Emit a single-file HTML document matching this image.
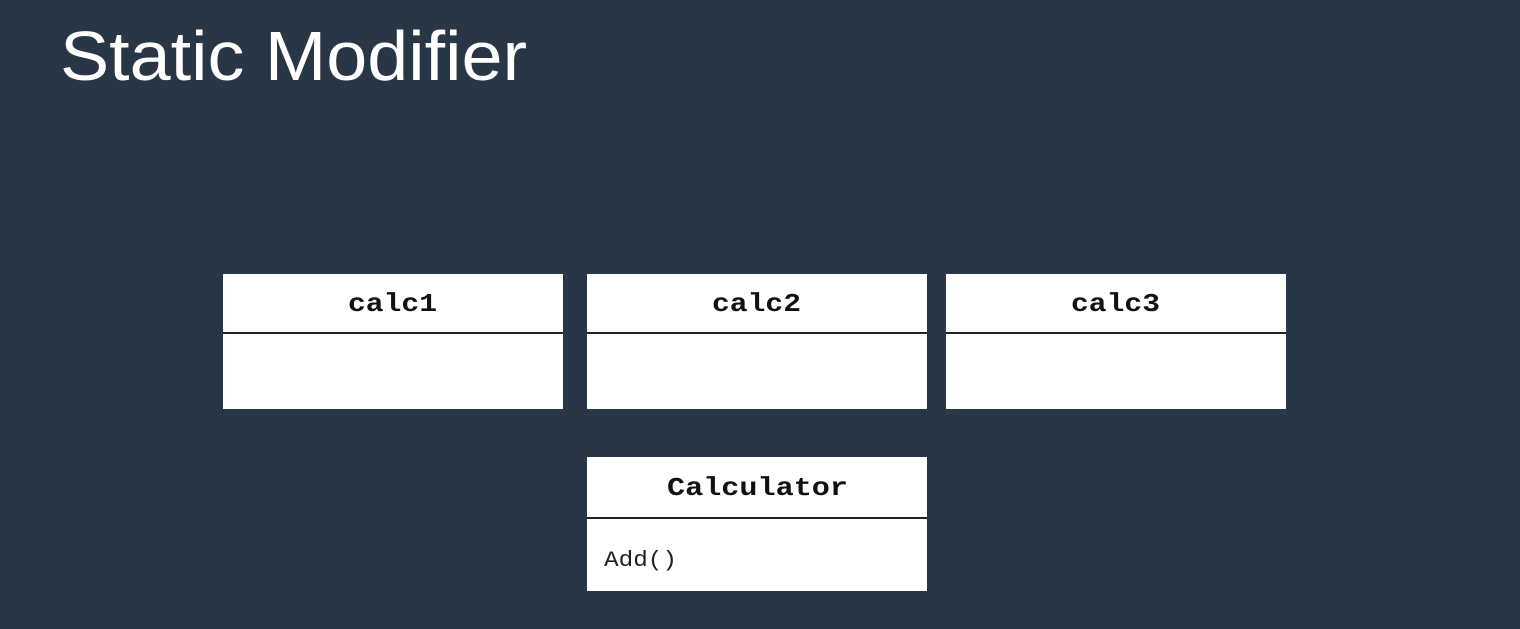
<!DOCTYPE html>
<html><head><meta charset="utf-8"><style>
html,body{margin:0;padding:0;background:#293646;width:1520px;height:629px;overflow:hidden}
</style></head><body>
<svg width="1520" height="629" xmlns="http://www.w3.org/2000/svg">
<rect width="1520" height="629" fill="#293646"/>
<text x="60" y="80" font-family="Liberation Sans, sans-serif" font-size="70" fill="#ffffff" textLength="467" lengthAdjust="spacingAndGlyphs">Static Modifier</text>
<g font-family="Liberation Mono, monospace" font-weight="bold" font-size="26" fill="#111">
<rect x="223" y="274" width="340" height="135" fill="#fff"/>
<line x1="223" y1="333" x2="563" y2="333" stroke="#222" stroke-width="2"/>
<text x="348" y="311" textLength="89" lengthAdjust="spacingAndGlyphs">calc1</text>
<rect x="587" y="274" width="340" height="135" fill="#fff"/>
<line x1="587" y1="333" x2="927" y2="333" stroke="#222" stroke-width="2"/>
<text x="712" y="311" textLength="89" lengthAdjust="spacingAndGlyphs">calc2</text>
<rect x="946" y="274" width="340" height="135" fill="#fff"/>
<line x1="946" y1="333" x2="1286" y2="333" stroke="#222" stroke-width="2"/>
<text x="1071" y="311" textLength="89" lengthAdjust="spacingAndGlyphs">calc3</text>
<rect x="587" y="457" width="340" height="134" fill="#fff"/>
<line x1="587" y1="518" x2="927" y2="518" stroke="#222" stroke-width="2"/>
<text x="667" y="495" textLength="181" lengthAdjust="spacingAndGlyphs">Calculator</text>
</g>
<text x="604" y="566" font-family="Liberation Mono, monospace" font-size="22" fill="#222" textLength="73" lengthAdjust="spacingAndGlyphs">Add()</text>
</svg>
</body></html>
